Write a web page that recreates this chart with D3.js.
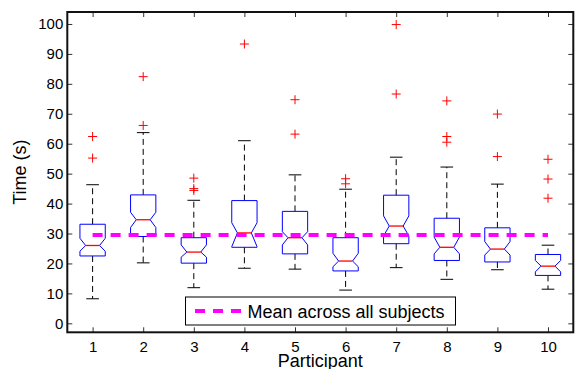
<!DOCTYPE html>
<html>
<head>
<meta charset="utf-8">
<script src="https://cdn.jsdelivr.net/npm/d3@7"></script>
<style>
  body { margin: 0; background: #fff; }
  svg { display: block; font-family: "Liberation Sans", Arial, Helvetica, sans-serif; }
</style>
</head>
<body>
<div id="wrapper"></div>
<script>
// data
const participants = [1, 2, 3, 4, 5, 6, 7, 8, 9, 10]
const whiskerLo = [8.2, 20.2, 11.9, 18.4, 18.1, 11.1, 18.6, 14.7, 17.9, 11.4]
const q1 = [22.5, 29.0, 20.1, 25.4, 23.2, 17.5, 26.6, 21.0, 20.5, 16.0]
const notchLo = [24.1, 32.0, 22.1, 25.6, 26.2, 18.9, 29.2, 23.2, 22.8, 17.2]
const medians = [26.0, 34.6, 23.8, 30.2, 28.6, 20.8, 32.5, 25.4, 24.8, 19.1]
const notchHi = [28.4, 37.1, 26.2, 33.6, 30.6, 23.4, 35.9, 28.8, 27.3, 21.0]
const q3 = [33.1, 42.9, 28.6, 41.0, 37.4, 28.6, 42.8, 35.1, 31.9, 23.0]
const whiskerHi = [46.3, 63.7, 41.1, 61.0, 49.6, 44.8, 55.5, 52.2, 46.5, 26.1]
const outliers = [
  [62.4, 55.2], [82.4, 66.1], [48.5, 45.0, 44.4], [93.3], [74.7, 63.2],
  [48.3, 46.6], [99.8, 76.6], [74.3, 62.4, 60.5], [69.9, 55.7], [54.8, 48.2, 41.8]
]
const meanAll = 29.5
const yTicks = [0, 10, 20, 30, 40, 50, 60, 70, 80, 90, 100]

const boxes = participants.map((p, i) => ({
  p, lo: whiskerLo[i], q1: q1[i], nlo: notchLo[i], med: medians[i],
  nhi: notchHi[i], q3: q3[i], hi: whiskerHi[i], out: outliers[i]
}))

const width = 576, height = 369
const plot = { left: 67.3, right: 573.3, top: 12, bottom: 332.3 }

const svg = d3.select("#wrapper").append("svg")
    .attr("width", width)
    .attr("height", height)

const xScale = d3.scaleLinear().domain([0.5, 10.5]).range([plot.left, plot.right])
const yScale = d3.scaleLinear().domain([-3, 104]).range([plot.bottom, plot.top])
const unit = xScale(2) - xScale(1)
const hw = unit * 0.25      // half box width
const nw = hw * 0.55        // half width at notch
const cw = unit * 0.125     // half cap width

// axes with inward ticks
const fontTick = 15
svg.append("g")
    .attr("transform", `translate(0,${plot.bottom})`)
    .call(d3.axisBottom(xScale).tickValues(participants).tickSizeInner(-5).tickSizeOuter(0).tickPadding(9))
    .call(g => g.select(".domain").remove())
    .call(g => g.selectAll("line").attr("stroke", "#333"))
    .call(g => g.selectAll("text").attr("font-size", fontTick).attr("fill", "#000").attr("font-family", null))
svg.append("g")
    .attr("transform", `translate(0,${plot.top})`)
    .call(d3.axisTop(xScale).tickValues(participants).tickSizeInner(-5).tickSizeOuter(0).tickFormat(""))
    .call(g => g.select(".domain").remove())
    .call(g => g.selectAll("line").attr("stroke", "#333"))
svg.append("g")
    .attr("transform", `translate(${plot.left},0)`)
    .call(d3.axisLeft(yScale).tickValues(yTicks).tickSizeInner(-5).tickSizeOuter(0).tickPadding(4))
    .call(g => g.select(".domain").remove())
    .call(g => g.selectAll("line").attr("stroke", "#333"))
    .call(g => g.selectAll("text").attr("font-size", fontTick).attr("fill", "#000").attr("font-family", null))
svg.append("g")
    .attr("transform", `translate(${plot.right},0)`)
    .call(d3.axisRight(yScale).tickValues(yTicks).tickSizeInner(-5).tickSizeOuter(0).tickFormat(""))
    .call(g => g.select(".domain").remove())
    .call(g => g.selectAll("line").attr("stroke", "#333"))

// frame
svg.append("rect")
    .attr("x", plot.left).attr("y", plot.top)
    .attr("width", plot.right - plot.left).attr("height", plot.bottom - plot.top)
    .attr("fill", "none").attr("stroke", "#111").attr("stroke-width", 2)

// boxes
const g = svg.append("g")
const box = g.selectAll(".box").data(boxes).enter().append("g").attr("class", "box")

box.append("line")
    .attr("x1", d => xScale(d.p)).attr("x2", d => xScale(d.p))
    .attr("y1", d => yScale(d.q3)).attr("y2", d => yScale(d.hi))
    .attr("stroke", "#000").attr("stroke-dasharray", "6,4")
box.append("line")
    .attr("x1", d => xScale(d.p)).attr("x2", d => xScale(d.p))
    .attr("y1", d => yScale(d.q1)).attr("y2", d => yScale(d.lo))
    .attr("stroke", "#000").attr("stroke-dasharray", "6,4")
box.append("line")
    .attr("x1", d => xScale(d.p) - cw).attr("x2", d => xScale(d.p) + cw)
    .attr("y1", d => yScale(d.hi)).attr("y2", d => yScale(d.hi))
    .attr("stroke", "#000")
box.append("line")
    .attr("x1", d => xScale(d.p) - cw).attr("x2", d => xScale(d.p) + cw)
    .attr("y1", d => yScale(d.lo)).attr("y2", d => yScale(d.lo))
    .attr("stroke", "#000")

box.append("path")
    .attr("d", d => {
      const x = xScale(d.p)
      return d3.line()([
        [x - hw, yScale(d.q1)], [x - hw, yScale(d.nlo)], [x - nw, yScale(d.med)],
        [x - hw, yScale(d.nhi)], [x - hw, yScale(d.q3)], [x + hw, yScale(d.q3)],
        [x + hw, yScale(d.nhi)], [x + nw, yScale(d.med)], [x + hw, yScale(d.nlo)],
        [x + hw, yScale(d.q1)]
      ]) + "Z"
    })
    .attr("fill", "none").attr("stroke", "#0000ff").attr("stroke-width", 1)

box.append("line")
    .attr("x1", d => xScale(d.p) - nw).attr("x2", d => xScale(d.p) + nw)
    .attr("y1", d => yScale(d.med)).attr("y2", d => yScale(d.med))
    .attr("stroke", "#ff0000").attr("stroke-width", 1.3)

// outliers as red plus signs
box.selectAll(".out")
    .data(d => d.out.map(v => ({ p: d.p, v })))
    .enter().append("path")
    .attr("class", "out")
    .attr("d", d => {
      const x = xScale(d.p), y = yScale(d.v)
      return `M${x - 4.5},${y}H${x + 4.5}M${x},${y - 4.5}V${y + 4.5}`
    })
    .attr("stroke", "#ff0000").attr("stroke-width", 1)

// mean line
svg.append("line")
    .attr("x1", xScale(participants[0])).attr("x2", xScale(participants[participants.length - 1]))
    .attr("y1", yScale(meanAll)).attr("y2", yScale(meanAll))
    .attr("stroke", "#ff00ff").attr("stroke-width", 4).attr("stroke-dasharray", "10,8")

// legend
const legend = svg.append("g")
legend.append("rect")
    .attr("x", 185.5).attr("y", 297).attr("width", 270).attr("height", 28)
    .attr("fill", "#fff").attr("stroke", "#000").attr("stroke-width", 1)
legend.append("line")
    .attr("x1", 195).attr("x2", 241).attr("y1", 311).attr("y2", 311)
    .attr("stroke", "#ff00ff").attr("stroke-width", 4).attr("stroke-dasharray", "10,8")
legend.append("text")
    .attr("x", 247.5).attr("y", 317.5)
    .attr("font-size", 18)
    .text("Mean across all subjects")

// axis labels
svg.append("text")
    .attr("x", (plot.left + plot.right) / 2).attr("y", 367)
    .attr("text-anchor", "middle").attr("font-size", 18)
    .text("Participant")
svg.append("text")
    .attr("transform", `translate(26,${(plot.top + plot.bottom) / 2}) rotate(-90)`)
    .attr("text-anchor", "middle").attr("font-size", 18)
    .text("Time (s)")
</script>
</body>
</html>
